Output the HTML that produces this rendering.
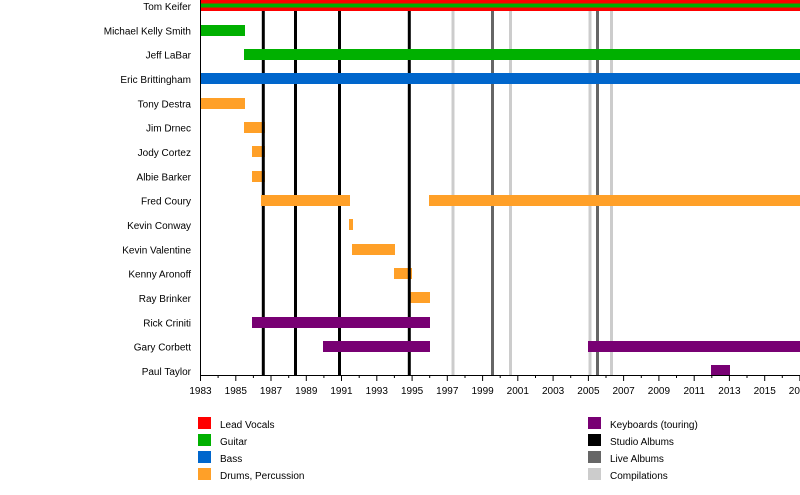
<!DOCTYPE html>
<html><head><meta charset="utf-8"><style>
html,body{margin:0;padding:0;background:#fff;}
svg{display:block;font-family:"Liberation Sans",sans-serif;font-size:10px;fill:#000}
</style></head><body>
<svg width="800" height="495" xmlns="http://www.w3.org/2000/svg">
<g text-anchor="end" font-size="10">
<text x="191" y="10">Tom Keifer</text>
<text x="191" y="34.3">Michael Kelly Smith</text>
<text x="191" y="58.7">Jeff LaBar</text>
<text x="191" y="83">Eric Brittingham</text>
<text x="191" y="107.3">Tony Destra</text>
<text x="191" y="131.7">Jim Drnec</text>
<text x="191" y="156">Jody Cortez</text>
<text x="191" y="180.3">Albie Barker</text>
<text x="191" y="204.7">Fred Coury</text>
<text x="191" y="229">Kevin Conway</text>
<text x="191" y="253.3">Kevin Valentine</text>
<text x="191" y="277.7">Kenny Aronoff</text>
<text x="191" y="302">Ray Brinker</text>
<text x="191" y="326.3">Rick Criniti</text>
<text x="191" y="350.7">Gary Corbett</text>
<text x="191" y="375">Paul Taylor</text>
</g>
<rect x="200" y="0" width="600" height="11" fill="#ff0000"/>
<rect x="200" y="3.5" width="600" height="4" fill="#00b000"/>
<rect x="200" y="25" width="45" height="11" fill="#00b000"/>
<rect x="200" y="98" width="45" height="11" fill="#ffa028"/>
<rect x="244" y="122" width="21" height="11" fill="#ffa028"/>
<rect x="252" y="146" width="13" height="11" fill="#ffa028"/>
<rect x="252" y="171" width="13" height="11" fill="#ffa028"/>
<rect x="349" y="219" width="4" height="11" fill="#ffa028"/>
<rect x="352" y="244" width="43" height="11" fill="#ffa028"/>
<rect x="394" y="268" width="18" height="11" fill="#ffa028"/>
<rect x="410" y="292" width="20" height="11" fill="#ffa028"/>
<rect x="711" y="365" width="19" height="10" fill="#780073"/>
<g stroke-width="3">
<line x1="453" y1="11" x2="453" y2="375" stroke="#cccccc"/>
<line x1="510.5" y1="11" x2="510.5" y2="375" stroke="#cccccc"/>
<line x1="590" y1="11" x2="590" y2="375" stroke="#cccccc"/>
<line x1="611.5" y1="11" x2="611.5" y2="375" stroke="#cccccc"/>
<line x1="492.5" y1="11" x2="492.5" y2="375" stroke="#666666"/>
<line x1="597.5" y1="11" x2="597.5" y2="375" stroke="#666666"/>
<line x1="263.3" y1="11" x2="263.3" y2="375" stroke="#000"/>
<line x1="295.5" y1="11" x2="295.5" y2="375" stroke="#000"/>
<line x1="339.5" y1="11" x2="339.5" y2="375" stroke="#000"/>
<line x1="409.3" y1="11" x2="409.3" y2="375" stroke="#000"/>
</g>
<rect x="244" y="49" width="556" height="11" fill="#00b000"/>
<rect x="200" y="73" width="600" height="11" fill="#0066cc"/>
<rect x="261" y="195" width="89" height="11" fill="#ffa028"/>
<rect x="429" y="195" width="371" height="11" fill="#ffa028"/>
<rect x="252" y="317" width="178" height="11" fill="#780073"/>
<rect x="323" y="341" width="107" height="11" fill="#780073"/>
<rect x="588" y="341" width="212" height="11" fill="#780073"/>
<line x1="200.5" y1="0" x2="200.5" y2="376" stroke="#000" stroke-width="1"/>
<line x1="200" y1="375.5" x2="800" y2="375.5" stroke="#000" stroke-width="1"/>
<g stroke="#000" stroke-width="1">
<path d="M200.5 375v6M218.1 375v3M235.8 375v6M253.4 375v3M271 375v6M288.7 375v3M306.3 375v6M323.9 375v3M341.5 375v6M359.2 375v3M376.8 375v6M394.4 375v3M412.1 375v6M429.7 375v3M447.3 375v6M465 375v3M482.6 375v6M500.2 375v3M517.8 375v6M535.5 375v3M553.1 375v6M570.7 375v3M588.4 375v6M606 375v3M623.6 375v6M641.3 375v3M658.9 375v6M676.5 375v3M694.2 375v6M711.8 375v3M729.4 375v6M747 375v3M764.7 375v6M782.3 375v3M799.9 375v6"/>
</g>
<g text-anchor="middle" font-size="10">
<text x="200.5" y="394">1983</text><text x="235.8" y="394">1985</text><text x="271" y="394">1987</text><text x="306.3" y="394">1989</text><text x="341.5" y="394">1991</text><text x="376.8" y="394">1993</text><text x="412.1" y="394">1995</text><text x="447.3" y="394">1997</text><text x="482.6" y="394">1999</text><text x="517.8" y="394">2001</text><text x="553.1" y="394">2003</text><text x="588.4" y="394">2005</text><text x="623.6" y="394">2007</text><text x="658.9" y="394">2009</text><text x="694.2" y="394">2011</text><text x="729.4" y="394">2013</text><text x="764.7" y="394">2015</text><text x="799.9" y="394">2017</text>
</g>
<rect x="198" y="417" width="13" height="12" fill="#ff0000"/>
<rect x="198" y="434" width="13" height="12" fill="#00b000"/>
<rect x="198" y="451" width="13" height="12" fill="#0066cc"/>
<rect x="198" y="468" width="13" height="12" fill="#ffa028"/>
<text x="220" y="428">Lead Vocals</text>
<text x="220" y="445">Guitar</text>
<text x="220" y="462">Bass</text>
<text x="220" y="479">Drums, Percussion</text>
<rect x="588" y="417" width="13" height="12" fill="#780073"/>
<rect x="588" y="434" width="13" height="12" fill="#000000"/>
<rect x="588" y="451" width="13" height="12" fill="#666666"/>
<rect x="588" y="468" width="13" height="12" fill="#cccccc"/>
<text x="610" y="428">Keyboards (touring)</text>
<text x="610" y="445">Studio Albums</text>
<text x="610" y="462">Live Albums</text>
<text x="610" y="479">Compilations</text>
</svg>
</body></html>
